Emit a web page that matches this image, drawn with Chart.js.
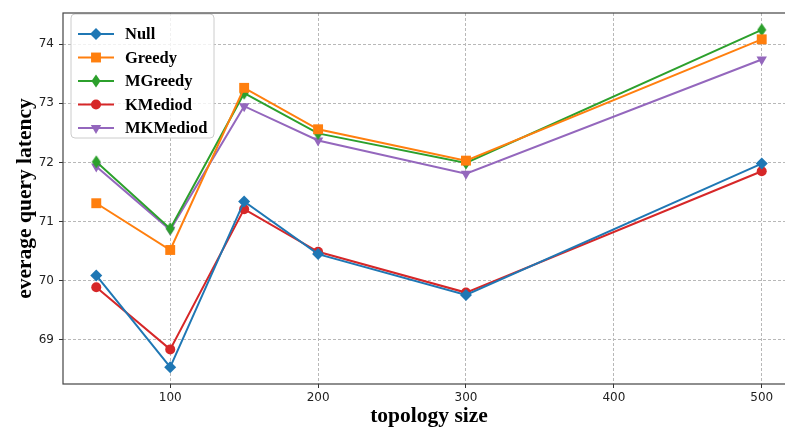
<!DOCTYPE html>
<html>
<head>
<meta charset="utf-8">
<script src="https://cdn.jsdelivr.net/npm/chart.js@4.4.1/dist/chart.umd.min.js"></script>
<style>
  html, body { margin: 0; padding: 0; background: #fff; overflow: hidden; }
  #grafico { display: block; }
</style>
</head>
<body>
<canvas id="grafico" width="802" height="428"></canvas>
<script>
const tamanos = [50, 100, 150, 200, 300, 500];
const nombres = ['Null', 'Greedy', 'MGreedy', 'KMediod', 'MKMediod'];
const valoresNull = [70.09, 68.54, 71.34, 70.45, 69.76, 71.98];
const valoresGreedy = [71.31, 70.52, 73.26, 72.56, 72.03, 74.08];
const valoresMGreedy = [72.01, 70.88, 73.17, 72.49, 71.99, 74.24];
const valoresKMediod = [69.89, 68.84, 71.21, 70.49, 69.80, 71.85];
const valoresMKMediod = [71.93, 70.86, 72.95, 72.37, 71.81, 73.74];
const ticksX = [100, 200, 300, 400, 500];
const ticksY = [69, 70, 71, 72, 73, 74];

const colores = ['#1f77b4', '#ff7f0e', '#2ca02c', '#d62728', '#9467bd'];

// diamante delgado (marcador 'd' de matplotlib)
function diamanteDelgado(color) {
    const c = document.createElement('canvas');
    c.width = 10; c.height = 14;
    const g = c.getContext('2d');
    g.fillStyle = color;
    g.beginPath();
    g.moveTo(5, 0.5); g.lineTo(9.5, 7); g.lineTo(5, 13.5); g.lineTo(0.5, 7);
    g.closePath();
    g.fill();
    return c;
}

const estilos = [
    { pointStyle: 'rectRot', radius: 6, rotation: 0 },
    { pointStyle: 'rect', radius: 7, rotation: 0 },
    { pointStyle: diamanteDelgado(colores[2]), radius: 6, rotation: 0 },
    { pointStyle: 'circle', radius: 5, rotation: 0 },
    { pointStyle: 'triangle', radius: 6, rotation: 180 }
];

const series = [valoresNull, valoresGreedy, valoresMGreedy, valoresKMediod, valoresMKMediod];

const datasets = series.map((vals, i) => ({
    label: nombres[i],
    data: tamanos.map((x, j) => ({ x: x, y: vals[j] })),
    borderColor: colores[i],
    backgroundColor: colores[i],
    borderWidth: 2,
    pointStyle: estilos[i].pointStyle,
    pointRadius: estilos[i].radius,
    pointRotation: estilos[i].rotation,
    pointBorderWidth: 0,
    pointHoverRadius: estilos[i].radius
}));

const marcoPlugin = {
    id: 'marco',
    afterDraw(chart) {
        const { ctx, chartArea: a } = chart;
        ctx.save();
        ctx.strokeStyle = '#444';
        ctx.lineWidth = 1.2;
        ctx.strokeRect(a.left, a.top, a.right - a.left, a.bottom - a.top);
        ctx.restore();
    }
};

const leyendaPlugin = {
    id: 'leyenda',
    afterDatasetsDraw(chart) {
        const ctx = chart.ctx;
        ctx.save();
        const bx = 71, by = 14, bw = 143, bh = 124;
        ctx.beginPath();
        ctx.roundRect(bx, by, bw, bh, 4);
        ctx.fillStyle = 'rgba(255,255,255,0.8)';
        ctx.fill();
        ctx.strokeStyle = '#cccccc';
        ctx.lineWidth = 1;
        ctx.stroke();
        chart.data.datasets.forEach((ds, i) => {
            const y = 34 + i * 23.5;
            ctx.strokeStyle = ds.borderColor;
            ctx.lineWidth = 2;
            ctx.beginPath();
            ctx.moveTo(78, y);
            ctx.lineTo(114, y);
            ctx.stroke();
            ctx.fillStyle = ds.backgroundColor;
            Chart.helpers.drawPoint(ctx, {
                pointStyle: ds.pointStyle,
                radius: ds.pointRadius,
                rotation: ds.pointRotation,
                borderWidth: 0
            }, 96, y);
            ctx.fillStyle = '#000';
            ctx.font = 'bold 16.5px "Liberation Serif"';
            ctx.textBaseline = 'middle';
            ctx.fillText(ds.label, 125, y + 1);
        });
        ctx.restore();
    }
};

const ctx = document.getElementById('grafico').getContext('2d');
new Chart(ctx, {
    type: 'line',
    data: { datasets: datasets },
    options: {
        responsive: false,
        animation: false,
        layout: { padding: { top: 13, right: 0, left: 0, bottom: 0 } },
        plugins: { legend: { display: false }, tooltip: { enabled: false } },
        scales: {
            x: {
                type: 'linear',
                min: 27.5,
                max: 522.5,
                afterBuildTicks: s => { s.ticks = ticksX.map(v => ({ value: v })); },
                afterFit: s => { s.height = 44; },
                grid: { color: '#b8b8b8', lineWidth: 1, tickLength: 4, tickColor: '#333', tickBorderDash: [] },
                border: { display: false, dash: [3, 2] },
                ticks: { color: '#222', font: { family: 'DejaVu Sans', size: 12 }, padding: 3, maxRotation: 0 },
                title: {
                    display: true,
                    text: 'topology size',
                    color: '#000',
                    font: { family: 'Liberation Serif', size: 21.5, weight: 'bold', lineHeight: 1 },
                    padding: { top: 0, bottom: 1 }
                }
            },
            y: {
                min: 68.255,
                max: 74.525,
                afterBuildTicks: s => { s.ticks = ticksY.map(v => ({ value: v })); },
                afterFit: s => { s.width = 63; },
                grid: { color: '#b8b8b8', lineWidth: 1, tickLength: 4, tickColor: '#333', tickBorderDash: [] },
                border: { display: false, dash: [3, 2] },
                ticks: { color: '#222', font: { family: 'DejaVu Sans', size: 12 }, padding: 5 },
                title: {
                    display: true,
                    text: 'everage query latency',
                    color: '#000',
                    font: { family: 'Liberation Serif', size: 21.5, weight: 'bold', lineHeight: 1 },
                    padding: { top: 15, bottom: 0 }
                }
            }
        }
    },
    plugins: [marcoPlugin, leyendaPlugin]
});
</script>
</body>
</html>
